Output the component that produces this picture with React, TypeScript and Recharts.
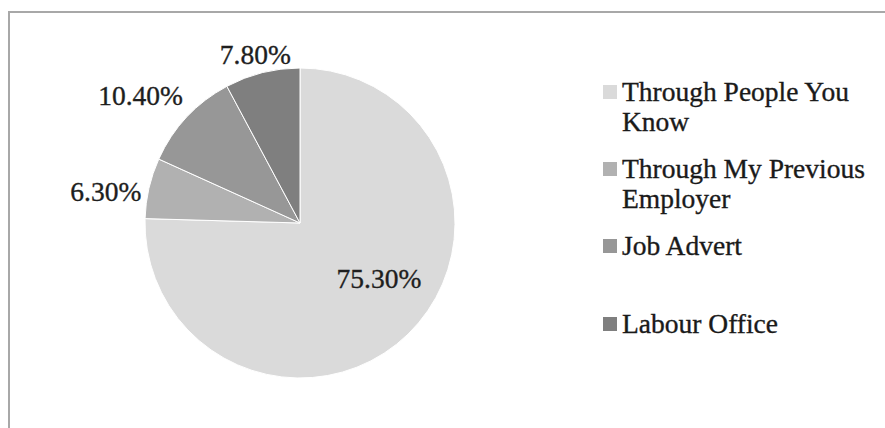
import React from "react";
import { PieChart, Pie, Cell, Legend } from "recharts";

const categories = [
  "Through People You Know",
  "Through My Previous Employer",
  "Job Advert",
  "Labour Office",
];
const shares = [75.3, 6.3, 10.4, 7.8];
const legendLines = [
  ["Through People You", "Know"],
  ["Through My Previous", "Employer"],
  ["Job Advert"],
  ["Labour Office"],
];
const colors = ["#dadada", "#b1b1b1", "#979797", "#7f7f7f"];

const data = categories.map((name, i) => ({ name, value: shares[i] }));

const FONT = "'Liberation Serif', 'DejaVu Serif', serif";
const RAD = Math.PI / 180;
// small nudges so labels sit where Excel's best-fit put them
const angleNudge = [11, 2.5, 0, -1];
const radiusNudge = [0, 0, 14, 0];

const renderLabel = (props: any) => {
  const { cx, cy, midAngle, outerRadius, value, index } = props;
  const text = `${value.toFixed(2)}%`;
  const a = (midAngle + angleNudge[index]) * RAD;
  const common = {
    textAnchor: "middle" as const,
    dominantBaseline: "central" as const,
    fontFamily: FONT,
    fontSize: 27.5,
    fill: "#1e1e1e",
    stroke: "#1e1e1e",
    strokeWidth: 0.35,
  };
  if (index === 0) {
    const r = outerRadius * 0.62;
    return (
      <text x={cx + r * Math.cos(a)} y={cy - r * Math.sin(a) + 1} {...common}>
        {text}
      </text>
    );
  }
  const r = outerRadius + 8 + radiusNudge[index];
  const px = cx + r * Math.cos(a);
  const py = cy - r * Math.sin(a);
  const w = text.length * 13.8;
  const h = 20;
  return (
    <text x={px + Math.cos(a) * w / 2} y={py - Math.sin(a) * h / 2} {...common}>
      {text}
    </text>
  );
};

const LegendBox = () => (
  <div style={{ fontFamily: FONT, fontSize: 27.5, color: "#1a1a1a", lineHeight: "30px",
    WebkitTextStroke: "0.35px #1a1a1a" }}>
    {legendLines.map((lines, i) => (
      <div key={i} style={{ position: "relative", paddingLeft: 19, marginBottom: i === 2 ? 48 : 17 }}>
        <span style={{ position: "absolute", left: 0, top: 8, width: 14, height: 14, background: colors[i] }} />
        {lines.map((l, j) => (
          <div key={j} style={{ whiteSpace: "nowrap" }}>{l}</div>
        ))}
      </div>
    ))}
  </div>
);

export default function App() {
  return (
    <div style={{ position: "absolute", left: 0, top: 0, width: 885, height: 428, background: "#fff" }}>
      <div style={{ position: "absolute", left: 8, top: 11, right: 0, bottom: 0,
        borderTop: "2px solid #a8a8a8", borderLeft: "2px solid #a8a8a8" }} />
      <PieChart width={885} height={428} margin={{ top: 0, right: 0, bottom: 0, left: 0 }}
        style={{ position: "absolute", left: 0, top: 0 }}>
        <Pie
          data={data}
          dataKey="value"
          nameKey="name"
          cx={300}
          cy={223}
          outerRadius={155}
          startAngle={90}
          endAngle={-270}
          stroke="#ffffff"
          strokeWidth={1}
          label={renderLabel}
          labelLine={false}
          isAnimationActive={false}
        >
          {data.map((d, i) => (
            <Cell key={d.name} fill={colors[i]} />
          ))}
        </Pie>
        <Legend
          content={<LegendBox />}
          layout="vertical"
          wrapperStyle={{ position: "absolute", left: 603, top: 77, width: 282 }}
        />
      </PieChart>
    </div>
  );
}
